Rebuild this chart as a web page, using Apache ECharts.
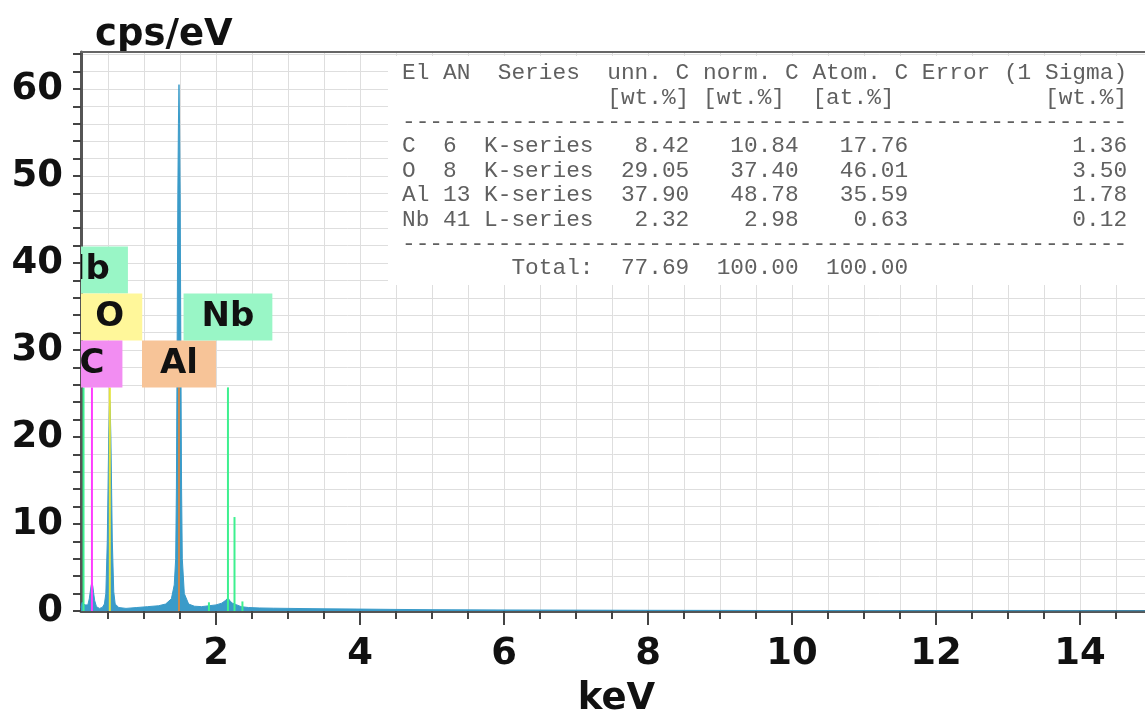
<!DOCTYPE html>
<html>
<head>
<meta charset="utf-8">
<script src="https://cdn.jsdelivr.net/npm/echarts@6/dist/echarts.min.js"></script>
<style>
  html, body { margin: 0; padding: 0; background: #fff; }
  #main { width: 1145px; height: 714px; }
</style>
</head>
<body>
<div id="main"></div>
<script>
// EDS spectrum (keV / cps per eV)
var energy = [0.125, 0.14, 0.16, 0.18, 0.20, 0.22, 0.24, 0.255, 0.265, 0.277, 0.29, 0.30, 0.315, 0.34, 0.38,
  0.42, 0.45, 0.47, 0.49, 0.50, 0.51, 0.52, 0.525, 0.53, 0.54, 0.55, 0.56, 0.58, 0.60, 0.65, 0.75, 0.9,
  1.05, 1.2, 1.3, 1.38, 1.42, 1.44, 1.45, 1.46, 1.47, 1.478, 1.486, 1.494, 1.502, 1.512, 1.522, 1.532,
  1.56, 1.62, 1.7, 1.8, 1.9, 2.0, 2.08, 2.13, 2.166, 2.2, 2.23, 2.257, 2.29, 2.35, 2.45, 2.6, 2.8, 3.0,
  3.5, 4.0, 4.5, 5.0, 6.0, 7.0, 8.0, 9.0, 10.0, 11.0, 12.0, 13.0, 14.0, 15.0];
var cps = [0.4, 1.0, 1.1, 0.7, 0.5, 0.7, 1.4, 2.3, 2.9, 3.3, 2.8, 2.1, 1.2, 0.5, 0.3,
  0.4, 0.8, 2.0, 8, 14, 20, 23.5, 24.2, 23.5, 20, 14, 8, 2.2, 0.8, 0.4, 0.3, 0.4,
  0.5, 0.6, 0.8, 1.4, 3.0, 6, 14, 30, 48, 56, 60.5, 56, 48, 30, 14, 6,
  2.0, 0.8, 0.55, 0.5, 0.6, 0.7, 0.9, 1.2, 1.5, 1.1, 0.9, 0.95, 0.7, 0.5, 0.4, 0.35, 0.32, 0.3,
  0.25, 0.22, 0.18, 0.15, 0.12, 0.1, 0.08, 0.07, 0.05, 0.04, 0.03, 0.03, 0.02, 0.02];

// element line markers
var lineEnergy = [0.16, 0.277, 0.525, 1.486, 1.902, 2.166, 2.257, 2.367];
var lineHeight = [25.7, 25.7, 25.7, 25.7, 1.0, 25.7, 10.8, 1.1];
var lineElement = ['Nb', 'C', 'O', 'Al', 'Nb', 'Nb', 'Nb', 'Nb'];

// element labels
var labelText = ['Nb', 'O', 'C', 'Al', 'Nb'];
var labelEnergy = [0.16, 0.525, 0.277, 1.486, 2.166];
var labelRow = [2, 1, 0, 0, 1];
var labelBase = 25.7;

// axis ticks
var xLabelValues = [2, 4, 6, 8, 10, 12, 14];
var xTickValues = [0.5, 1, 1.5, 2, 2.5, 3, 3.5, 4, 4.5, 5, 5.5, 6, 6.5, 7, 7.5, 8, 8.5, 9, 9.5, 10,
  10.5, 11, 11.5, 12, 12.5, 13, 13.5, 14, 14.5, 15];
var yLabelValues = [0, 10, 20, 30, 40, 50, 60];
var yTickValues = [0, 2, 4, 6, 8, 10, 12, 14, 16, 18, 20, 22, 24, 26, 28, 30, 32, 34, 36, 38, 40,
  42, 44, 46, 48, 50, 52, 54, 56, 58, 60, 62, 64];

// quantification table
var tblEl = ['C', 'O', 'Al', 'Nb'];
var tblAN = [6, 8, 13, 41];
var tblSeries = ['K-series', 'K-series', 'K-series', 'L-series'];
var tblUnn = ['8.42', '29.05', '37.90', '2.32'];
var tblNorm = ['10.84', '37.40', '48.78', '2.98'];
var tblAtom = ['17.76', '46.01', '35.59', '0.63'];
var tblErr = ['1.36', '3.50', '1.78', '0.12'];
var tblTotal = ['77.69', '100.00', '100.00'];

var boxColor = { Nb: '#99f6c6', O: '#fff79a', C: '#f28df2', Al: '#f7c498' };
var markColor = { Nb: '#3ef08f', O: '#e3e33a', C: '#ff3cff', Al: '#c8894d' };

var tableLines = [];
tableLines.push('El AN  Series  unn. C norm. C Atom. C Error (1 Sigma)');
tableLines.push(('               [wt.%] [wt.%]  [at.%]').padEnd(47) + '[wt.%]');
tableLines.push('-'.repeat(53));
for (var i = 0; i < tblEl.length; i++) {
  tableLines.push(tblEl[i].padEnd(3) + String(tblAN[i]).padEnd(3) + tblSeries[i].padEnd(8) +
    tblUnn[i].padStart(7) + tblNorm[i].padStart(8) + tblAtom[i].padStart(8) + tblErr[i].padStart(16));
}
tableLines.push('-'.repeat(53));
tableLines.push('        Total:' + tblTotal[0].padStart(7) + tblTotal[1].padStart(8) + tblTotal[2].padStart(8));

var bigFont = { fontFamily: 'DejaVu Sans', fontWeight: 'bold', fontSize: 37, color: '#111' };

var chart = echarts.init(document.getElementById('main'));

var option = {
  animation: false,
  backgroundColor: '#fff',
  grid: { left: 81, right: -7, top: 52, bottom: 103, containLabel: false, outerBoundsMode: 'none' },
  xAxis: [
    {
      type: 'value', min: 0.125, max: 15, position: 'bottom',
      name: 'keV', nameLocation: 'middle', nameGap: 70, nameTextStyle: bigFont,
      axisLine: { show: true, lineStyle: { color: '#555', width: 3 } },
      axisTick: { show: true, customValues: xTickValues, length: 8, lineStyle: { color: '#444', width: 2 } },
      axisLabel: { customValues: xLabelValues, margin: 25, fontFamily: 'DejaVu Sans', fontWeight: 'bold', fontSize: 37, color: '#111' },
      splitLine: { show: true, lineStyle: { color: '#dedede', width: 1 } }
    },
    {
      type: 'value', min: 0.125, max: 15, position: 'bottom',
      axisLine: { show: false },
      axisTick: { show: true, customValues: xLabelValues, length: 14, lineStyle: { color: '#444', width: 2 } },
      axisLabel: { show: false },
      splitLine: { show: false }
    },
    {
      type: 'value', min: 0.125, max: 15, position: 'top',
      axisLine: { show: true, lineStyle: { color: '#666', width: 2 } },
      axisTick: { show: false },
      axisLabel: { show: false },
      splitLine: { show: false }
    }
  ],
  yAxis: {
    type: 'value', min: 0, max: 64.25, position: 'left',
    name: 'cps/eV', nameLocation: 'end', nameGap: -2,
    nameTextStyle: Object.assign({}, bigFont, { align: 'left', padding: [0, 0, 0, 14] }),
    axisLine: { show: true, lineStyle: { color: '#555', width: 3 } },
    axisTick: { show: true, customValues: yTickValues, length: 8, lineStyle: { color: '#444', width: 2 } },
    axisLabel: { customValues: yLabelValues, margin: 18, fontFamily: 'DejaVu Sans', fontWeight: 'bold', fontSize: 37, color: '#111', padding: [4, 0, 0, 0] },
    splitLine: { show: true, lineStyle: { color: '#dedede', width: 1 } }
  },
  series: [
    {
      type: 'line',
      xAxisIndex: 0,
      data: energy.map(function (e, i) { return [e, cps[i]]; }),
      showSymbol: false,
      lineStyle: { color: '#3a9bc9', width: 1 },
      areaStyle: { color: '#3a9bc9', opacity: 1 },
      clip: true,
      z: 2
    },
    {
      type: 'custom',
      xAxisIndex: 0,
      clip: true,
      z: 3,
      data: lineEnergy.map(function (e, i) { return [e, lineHeight[i], i]; }),
      encode: { x: 0, y: 1 },
      renderItem: function (params, api) {
        var idx = api.value(2);
        var p0 = api.coord([api.value(0), 0]);
        var p1 = api.coord([api.value(0), api.value(1)]);
        return {
          type: 'line',
          shape: { x1: p0[0], y1: p0[1], x2: p1[0], y2: p1[1] },
          style: { stroke: markColor[lineElement[idx]], lineWidth: 2 }
        };
      }
    },
    {
      type: 'custom',
      xAxisIndex: 0,
      clip: true,
      z: 4,
      data: labelEnergy.map(function (e, i) { return [e, labelBase, i]; }),
      encode: { x: 0, y: 1 },
      renderItem: function (params, api) {
        var idx = api.value(2);
        var p = api.coord([api.value(0), api.value(1)]);
        return {
          type: 'text',
          style: {
            text: labelText[idx],
            x: p[0],
            y: p[1] - labelRow[idx] * 47,
            align: 'center',
            verticalAlign: 'bottom',
            font: 'bold 34px "DejaVu Sans"',
            fill: '#111',
            lineHeight: 35,
            backgroundColor: boxColor[labelText[idx]],
            padding: [6, 18, 6, 18]
          }
        };
      }
    }
  ],
  graphic: [
    {
      type: 'rect', left: 388, top: 56, z: 10,
      shape: { width: 757, height: 229 },
      style: { fill: '#fff' }
    },
    {
      type: 'text', left: 402, top: 61, z: 11,
      style: {
        text: tableLines.join('\n'),
        font: '22.8px "Liberation Mono"',
        lineHeight: 24.4,
        fill: '#606060'
      }
    }
  ]
};

chart.setOption(option);
</script>
</body>
</html>
